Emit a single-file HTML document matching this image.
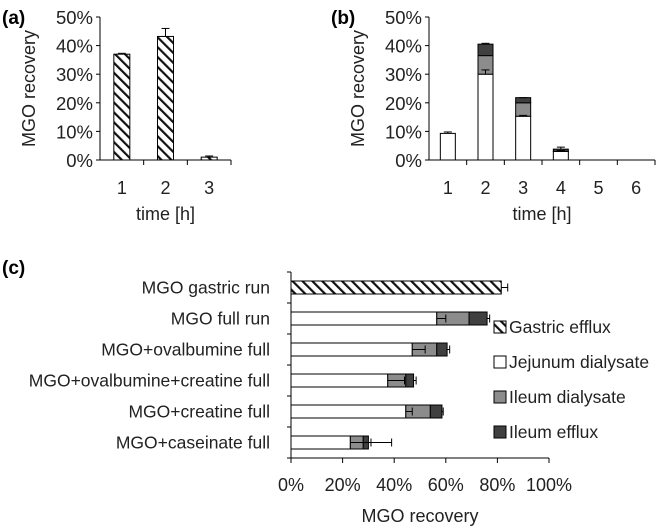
<!DOCTYPE html>
<html><head><meta charset="utf-8"><style>
html,body{margin:0;padding:0;background:#fff}
svg{display:block;font-family:"Liberation Sans",sans-serif}
</style></head><body>
<svg id="s" width="661" height="526" viewBox="0 0 661 526">
<defs>
<pattern id="hatch" patternUnits="userSpaceOnUse" width="7" height="7" patternTransform="rotate(-45)">
<rect width="7" height="7" fill="#fff"/><rect width="2.2" height="7" fill="#111"/>
</pattern>
</defs>
</svg>
<script>
const NS='http://www.w3.org/2000/svg';
const svg=document.getElementById('s');
function el(t,a,p){const e=document.createElementNS(NS,t);for(const k in a)e.setAttribute(k,a[k]);(p||svg).appendChild(e);return e;}
function txt(s,a,p){const e=el('text',a,p);e.textContent=s;return e;}

// Panel a data
const aCats=['1','2','3'];
const aVals=[37,43.2,1];
const aErr=[37.3,46,1.4];
// Panel b data
const bCats=['1','2','3','4','5','6'];
const bJej=[9.3,30,15.3,3,0,0];
const bIleD=[0,6.5,4.7,0,0,0];
const bIleE=[0,4,1.8,0.8,0,0];
const bErrJ=[9.8,31.5,15.6,3.3,0,0];
const bErrT=[0,40.8,21.8,4.5,0,0];
const yTicks=['0%','10%','20%','30%','40%','50%'];
// Panel c data
const cCats=['MGO gastric run','MGO full run','MGO+ovalbumine full','MGO+ovalbumine+creatine full','MGO+creatine full','MGO+caseinate full'];
const cGastric=[81.5,0,0,0,0,0];
const cJej=[0,56.5,47,37.5,44.5,23];
const cIleD=[0,12.5,9.5,7,9.5,5];
const cIleE=[0,7,4,3,4.5,2];
const cErrJ=[0,60,52,44,47,31];
const cErrT=[84,77,61.5,48.5,59,39];
const xTicksC=['0%','20%','40%','60%','80%','100%'];
const legendLabels=['Gastric efflux','Jejunum dialysate','Ileum dialysate','Ileum efflux'];
const legendFills=['url(#hatch)','#fff','#8c8c8c','#404040'];

function vpanel(x0,x1,cats,name,letter,lx){
  const y0=160,y1=17,ys=v=>y0-(y0-y1)*v/50;
  const g=el('g',{});
  
  
  el('line',{x1:x0,y1:y1,x2:x0,y2:y0,stroke:'#000','stroke-width':1},g);
  el('line',{x1:x0,y1:y0,x2:x1,y2:y0,stroke:'#000','stroke-width':1},g);
  yTicks.forEach((t,i)=>{const y=ys(i*10);
    el('line',{x1:x0-4,y1:y,x2:x0,y2:y,stroke:'#000'},g);
    const e=txt(t,{x:x0-7,y:y+7,'text-anchor':'end','font-size':18.5,fill:'#222'},g);
    });
  const bw=(x1-x0)/cats.length;
  cats.forEach((c,i)=>{const x=x0+bw*(i+1);
    el('line',{x1:x,y1:y0,x2:x,y2:y0+5,stroke:'#000'},g);
    const e=txt(c,{x:x0+bw*(i+.5),y:194,'text-anchor':'middle','font-size':18,fill:'#222'},g);
    });
  const xt=txt('time [h]',{x:(x0+x1)/2,y:220,'text-anchor':'middle','font-size':18,fill:'#222'},g);
  
  const yt=txt('MGO recovery',{x:0,y:0,'text-anchor':'middle','font-size':18,fill:'#222',transform:`translate(${x0-65},${(y0+y1)/2}) rotate(-90)`},g);
  
  const lt=txt(letter,{x:lx,y:24,'font-size':19,'font-weight':'bold',fill:'#000'},g);
  
  return {g,ys,bw};
}
function errV(g,x,y1v,y2v){el('line',{x1:x,y1:y1v,x2:x,y2:y2v,stroke:'#000'},g);el('line',{x1:x-4,y1:y2v,x2:x+4,y2:y2v,stroke:'#000'},g);}

// Panel a
(function(){
  const x0=100,x1=231;const {g,ys,bw}=vpanel(x0,x1,aCats,'panel-a','(a)',2);
  aVals.forEach((v,i)=>{const cx=x0+bw*(i+.5);
    const r=el('rect',{x:cx-8,y:ys(v),width:16,height:ys(0)-ys(v),fill:'url(#hatch)',stroke:'#000'},g);
    
    errV(g,cx,ys(v),ys(aErr[i]));});
})();
// Panel b
(function(){
  const x0=429,x1=655;const {g,ys,bw}=vpanel(x0,x1,bCats,'panel-b','(b)',331);
  bCats.forEach((c,i)=>{const cx=x0+bw*(i+.5);let acc=0;
    [[bJej,'#fff','jejunum'],[bIleD,'#8c8c8c','ileum-dialysate'],[bIleE,'#404040','ileum-efflux']].forEach(([arr,f,n])=>{
      const v=arr[i];if(v<=0)return;
      const r=el('rect',{x:cx-7.5,y:ys(acc+v),width:15,height:ys(acc)-ys(acc+v),fill:f,stroke:'#000'},g);
      
      acc+=v;});
    if(bJej[i]>0)errV(g,cx,ys(bJej[i]),ys(bErrJ[i]));
    if(bErrT[i]>0)errV(g,cx,ys(acc),ys(bErrT[i]));});
})();
// Panel c
(function(){
  const x0=291,x1=549,yt=272,yb=458;const xs=v=>x0+(x1-x0)*v/100;
  const g=el('g',{});
  const lt=txt('(c)',{x:2,y:274,'font-size':19,'font-weight':'bold',fill:'#000'},g);
  
  el('line',{x1:x0,y1:yt,x2:x0,y2:yb,stroke:'#000'},g);
  el('line',{x1:x0,y1:yb,x2:x1,y2:yb,stroke:'#000'},g);
  const rh=(yb-yt)/cCats.length;
  for(let i=0;i<=cCats.length;i++)el('line',{x1:x0-4,y1:yt+rh*i,x2:x0,y2:yt+rh*i,stroke:'#000'},g);
  xTicksC.forEach((t,i)=>{const x=xs(i*20);
    el('line',{x1:x,y1:yb,x2:x,y2:yb+5,stroke:'#000'},g);
    const e=txt(t,{x:x,y:491,'text-anchor':'middle','font-size':18,fill:'#222'},g);
    });
  const xt=txt('MGO recovery',{x:420,y:522,'text-anchor':'middle','font-size':18,fill:'#222'},g);
  
  cCats.forEach((c,i)=>{const cy=yt+rh*(i+.5);
    const e=txt(c,{x:270,y:cy+6,'text-anchor':'end','font-size':17.5,fill:'#222'},g);
    
    let acc=0;
    [[cGastric,'url(#hatch)','gastric'],[cJej,'#fff','jejunum'],[cIleD,'#8c8c8c','ileum-dialysate'],[cIleE,'#404040','ileum-efflux']].forEach(([arr,f,n])=>{
      const v=arr[i];if(v<=0)return;
      const r=el('rect',{x:xs(acc),y:cy-6.5,width:xs(acc+v)-xs(acc),height:13,fill:f,stroke:'#000'},g);
      
      acc+=v;});
    function errH(a,b){el('line',{x1:xs(a),y1:cy,x2:xs(b),y2:cy,stroke:'#000'},g);el('line',{x1:xs(b),y1:cy-4,x2:xs(b),y2:cy+4,stroke:'#000'},g);}
    if(cJej[i]>0)errH(cJej[i],cErrJ[i]);
    errH(acc,cErrT[i]);});
  legendLabels.forEach((l,i)=>{const y=327+35*i;
    const lg=el('g',{},g);
    el('rect',{x:494,y:y-6,width:12,height:12,fill:legendFills[i],stroke:'#000'},lg);
    txt(l,{x:509,y:y+6,'font-size':17.5,fill:'#222'},lg);});
})();
</script>
</body></html>
